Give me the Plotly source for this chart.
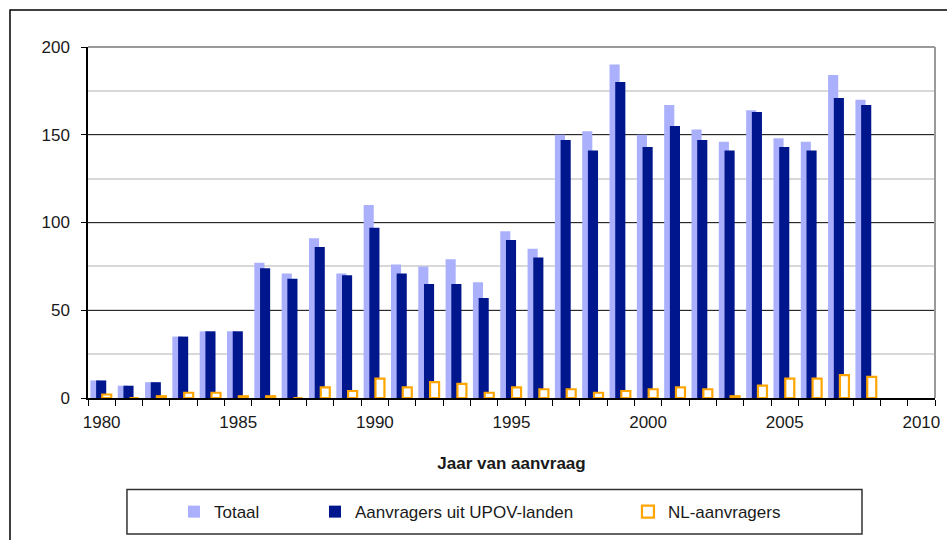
import plotly.graph_objects as go

years = list(range(1980, 2009))
totaal = [10, 7, 9, 35, 38, 38, 77, 71, 91, 71, 110, 76, 75, 79, 66, 95, 85,
          150, 152, 190, 150, 167, 153, 146, 164, 148, 146, 184, 170]
upov = [10, 7, 9, 35, 38, 38, 74, 68, 86, 70, 97, 71, 65, 65, 57, 90, 80,
        147, 141, 180, 143, 155, 147, 141, 163, 143, 141, 171, 167]
nl = [2, 0, 1, 3, 3, 1, 1, 0, 6, 4, 11, 6, 9, 8, 3, 6, 5,
      5, 3, 4, 5, 6, 5, 1, 7, 11, 11, 13, 12]
x_ticks = [1980, 1985, 1990, 1995, 2000, 2005, 2010]

FONT = "Liberation Sans, Arial, sans-serif"
TXT = "#1a1a1a"

fig = go.Figure()
fig.add_trace(go.Bar(x=years, y=totaal, name="Totaal", width=0.37, offset=-0.412,
                     marker=dict(color="#AAB0FC", line=dict(width=0)), legend="legend"))
fig.add_trace(go.Bar(x=years, y=upov, name="Aanvragers uit UPOV-landen", width=0.37, offset=-0.203,
                     marker=dict(color="#00168C", line=dict(width=0)), legend="legend2"))
fig.add_trace(go.Bar(x=years, y=nl, name="NL-aanvragers", width=0.33, offset=0.02,
                     marker=dict(color="white", line=dict(color="#FFA500", width=2.2)), legend="legend3"))

leg_common = dict(yanchor="middle", y=-0.325, xanchor="left", bgcolor="rgba(0,0,0,0)",
                  borderwidth=0, font=dict(family=FONT, size=17, color=TXT))

fig.update_layout(
    width=947, height=540,
    margin=dict(l=88, r=12, t=47, b=142, autoexpand=False),
    paper_bgcolor="white", plot_bgcolor="white",
    barmode="overlay",
    showlegend=True,
    font=dict(family=FONT, size=17, color=TXT),
    legend=dict(x=0.1015, **leg_common),
    legend2=dict(x=0.268, **leg_common),
    legend3=dict(x=0.6375, **leg_common),
    xaxis=dict(
        range=[1979.5, 2010.5], tickvals=x_ticks, ticks="",
        ticklabelstandoff=8,
        showline=True, linecolor="black", linewidth=1.5,
        showgrid=False, zeroline=False,
        minor=dict(tick0=1979.5, dtick=1, ticks="outside", ticklen=6,
                   tickcolor="black", tickwidth=1.3, showgrid=False),
        tickfont=dict(family=FONT, size=17, color=TXT),
        title=dict(text="<b>Jaar van aanvraag</b>", standoff=26,
                   font=dict(family=FONT, size=17, color=TXT)),
    ),
    yaxis=dict(
        range=[0, 200], tickvals=[0, 50, 100, 150, 200],
        ticks="outside", ticklen=5, tickcolor="black", tickwidth=1.3,
        ticklabelstandoff=8,
        showline=True, linecolor="black", linewidth=1.5,
        showgrid=True, gridcolor="#2a2a2a", gridwidth=1, zeroline=False,
        minor=dict(dtick=25, showgrid=True, gridcolor="#d8d8d8", gridwidth=1.5),
        tickfont=dict(family=FONT, size=17, color=TXT),
    ),
    shapes=[
        # plot area top and right border (grey)
        dict(type="line", xref="paper", yref="paper", x0=0, x1=1, y0=1, y1=1,
             line=dict(color="#9a9a9a", width=2), layer="above"),
        dict(type="line", xref="paper", yref="paper", x0=1, x1=1, y0=0, y1=1,
             line=dict(color="#9a9a9a", width=2), layer="above"),
        # legend frame
        dict(type="rect", xref="paper", yref="paper", x0=0.046, x1=0.9138,
             y0=-0.2607, y1=-0.3875, line=dict(color="#333333", width=1.5)),
        # outer chart frame
        dict(type="rect", xref="paper", yref="paper", x0=-0.0921, x1=1.5,
             y0=-1.0, y1=1.1054, line=dict(color="black", width=1.5)),
    ],
)

fig.write_html("out.html",
               config={"displayModeBar": False},
               post_script="document.body.style.margin='0';document.body.style.overflow='hidden';")
